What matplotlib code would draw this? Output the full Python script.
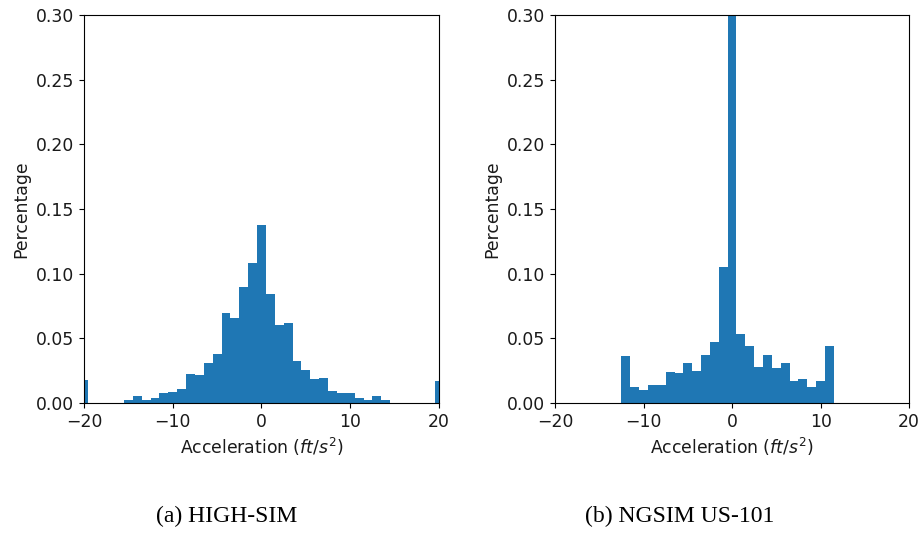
import numpy as np
import matplotlib
matplotlib.use('Agg')
import matplotlib.pyplot as plt

plt.rcParams.update({'font.size': 12.4})

# acceleration bins (ft/s^2), one per integer value
highsim_accel = np.arange(-20, 21)
highsim_pct = [0.0175, 0.0003, 0.0003, 0.0003, 0.0003, 0.0026, 0.0052, 0.0026, 0.0041, 0.0075,
               0.0082, 0.0108, 0.0224, 0.0216, 0.0310, 0.0380, 0.0695, 0.0654, 0.0896, 0.1080,
               0.1375, 0.0845, 0.0603, 0.0620, 0.0324, 0.0252, 0.0185, 0.0190, 0.0093, 0.0077,
               0.0077, 0.0036, 0.0026, 0.0052, 0.0026, 0.0003, 0.0003, 0.0003, 0.0003, 0.0003,
               0.0167]

ngsim_accel = np.arange(-12, 12)
ngsim_pct = [0.0363, 0.0126, 0.0100, 0.0142, 0.0142, 0.0242, 0.0232, 0.0309, 0.0245, 0.0373,
             0.0474, 0.1053, 0.2992, 0.0530, 0.0438, 0.0276, 0.0373, 0.0273, 0.0309, 0.0167,
             0.0188, 0.0126, 0.0167, 0.0438]

captions = ['(a) HIGH-SIM', '(b) NGSIM US-101']

fig = plt.figure(figsize=(9.22, 5.36), dpi=100)
ax1 = fig.add_axes([0.0911, 0.2481, 0.385, 0.7239])
ax2 = fig.add_axes([0.602, 0.2481, 0.384, 0.7239])

for ax, accel, pct in [(ax1, highsim_accel, highsim_pct), (ax2, ngsim_accel, ngsim_pct)]:
    edges = np.append(accel - 0.5, accel[-1] + 0.5)
    ax.hist(accel, bins=edges, weights=pct, color='#1f77b4')
    ax.set_xlim(-20, 20)
    ax.set_ylim(0, 0.30)
    ax.set_xticks([-20, -10, 0, 10, 20])
    ax.set_yticks(np.arange(0, 0.31, 0.05))
    ax.set_xlabel('Acceleration ($ft/s^2$)', color='#1a1a1a')
    ax.set_ylabel('Percentage', color='#1a1a1a')
    ax.tick_params(labelcolor='#1a1a1a')

# subfigure captions below each panel
for x, cap in zip([0.246, 0.7375], captions):
    fig.text(x, 0.036, cap, ha='center', va='center',
             family='Liberation Serif', fontsize=17)

fig.savefig('out.png', dpi=100)
